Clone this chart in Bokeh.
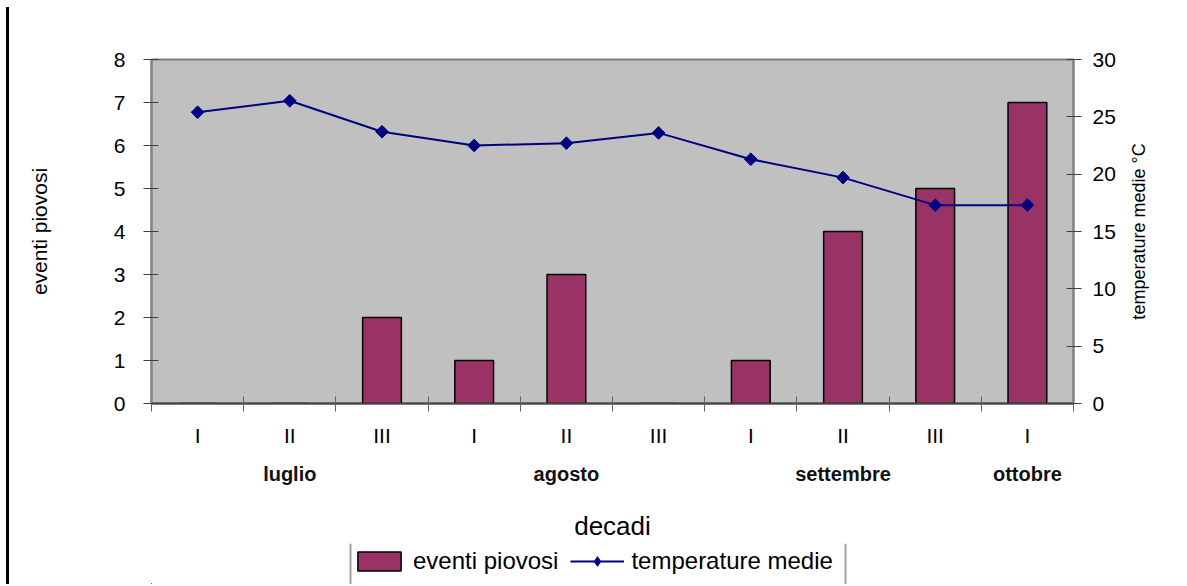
from bokeh.plotting import figure
from bokeh.models import Range1d, LinearAxis, FixedTicker, Legend, LegendItem, Div, Spacer, Span
from bokeh.layouts import row, column
from bokeh.embed import file_html
from bokeh.resources import INLINE
import numpy as np

# ---- data ----
decadi = ["I", "II", "III", "I", "II", "III", "I", "II", "III", "I"]
mesi = ["luglio", "agosto", "settembre", "ottobre"]
mesi_decade_idx = [1, 4, 7, 9]
eventi_piovosi = [0, 0, 2, 1, 3, 0, 1, 4, 5, 7]
temperature_medie = [25.4, 26.4, 23.7, 22.5, 22.7, 23.6, 21.3, 19.7, 17.3, 17.3]
y_left_ticks = [0, 1, 2, 3, 4, 5, 6, 7, 8]
y_right_ticks = [0, 5, 10, 15, 20, 25, 30]

FONT = "Liberation Sans"
BAR_FILL = "#993366"
LINE_COL = "#000080"
n = len(decadi)
xc = [i + 0.5 for i in range(n)]

W = 1114
BL, BR = 142, 50
FW = W - BL - BR
H, BT, BB = 543, 59, 140

p = figure(width=W, height=H, output_backend="svg", toolbar_location=None,
           x_range=Range1d(0, n), y_range=Range1d(0, 8),
           min_border_left=BL, min_border_right=BR, min_border_top=BT, min_border_bottom=BB)
p.background_fill_color = "#C0C0C0"
p.border_fill_color = "white"
p.outline_line_color = "#808080"
p.outline_line_width = 2
p.grid.visible = False
p.extra_y_ranges = {"temp": Range1d(0, 30)}

bars = p.vbar(x=xc, top=eventi_piovosi, width=0.42, fill_color=BAR_FILL,
              line_color="black", line_width=1.5)
line = p.line(x=xc, y=temperature_medie, y_range_name="temp", line_color=LINE_COL, line_width=2)
pts = p.scatter(x=xc, y=temperature_medie, y_range_name="temp", marker="square", angle=np.pi / 4,
                size=9, fill_color=LINE_COL, line_color=LINE_COL)

# left axis
yl = p.yaxis[0]
yl.ticker = FixedTicker(ticks=y_left_ticks)
yl.major_tick_in = 7
yl.major_tick_out = 8
yl.minor_tick_line_color = None
yl.axis_line_color = "#808080"
yl.axis_line_width = 2
yl.major_tick_line_color = "#404040"
yl.major_label_text_font = FONT
yl.major_label_text_font_size = "21px"
yl.major_label_text_color = "black"
yl.major_label_standoff = 18
yl.axis_label = "eventi piovosi"
yl.axis_label_text_font = FONT
yl.axis_label_text_font_style = "normal"
yl.axis_label_text_font_size = "21px"
yl.axis_label_text_color = "black"
yl.axis_label_standoff = 60

# right axis (values only; its title sits in the narrow figure on the right)
yr = LinearAxis(y_range_name="temp", ticker=FixedTicker(ticks=y_right_ticks))
yr.major_tick_in = 7
yr.major_tick_out = 8
yr.minor_tick_line_color = None
yr.axis_line_color = "#808080"
yr.axis_line_width = 2
yr.major_tick_line_color = "#404040"
yr.major_label_text_font = FONT
yr.major_label_text_font_size = "21px"
yr.major_label_text_color = "black"
yr.major_label_standoff = 11
p.add_layout(yr, "right")

# bottom axis: decade boundary ticks
xa = p.xaxis[0]
xa.ticker = FixedTicker(ticks=list(range(n + 1)))
xa.major_label_overrides = {i: "" for i in range(n + 1)}
xa.major_label_text_font_size = "1px"
xa.major_label_standoff = 0
xa.major_tick_in = 7
xa.major_tick_out = 8
xa.minor_tick_line_color = None
xa.axis_line_color = "#404040"
xa.axis_line_width = 2
xa.major_tick_line_color = "#606060"

# decade numerals
xn = LinearAxis(ticker=FixedTicker(ticks=xc),
                major_label_overrides={xc[i]: decadi[i] for i in range(n)})
xn.axis_line_color = None
xn.major_tick_line_color = None
xn.minor_tick_line_color = None
xn.major_label_text_font = FONT
xn.major_label_text_font_size = "21px"
xn.major_label_text_color = "black"
xn.major_label_standoff = 6
p.add_layout(xn, "below")

# months
mpos = [xc[i] for i in mesi_decade_idx]
xm = LinearAxis(ticker=FixedTicker(ticks=mpos),
                major_label_overrides={mpos[i]: mesi[i] for i in range(len(mesi))})
xm.axis_line_color = None
xm.major_tick_line_color = None
xm.minor_tick_line_color = None
xm.major_label_text_font = FONT
xm.major_label_text_font_size = "20px"
xm.major_label_text_font_style = "bold"
xm.major_label_text_color = "#111111"
xm.major_label_standoff = 7
xm.axis_label = "decadi"
xm.axis_label_text_font = FONT
xm.axis_label_text_font_style = "normal"
xm.axis_label_text_font_size = "26px"
xm.axis_label_text_color = "black"
xm.axis_label_standoff = 23
p.add_layout(xm, "below")

# narrow figure on the right carrying the right-axis title, reading upwards
pr = figure(width=62, height=H, output_backend="svg", toolbar_location=None,
            x_range=Range1d(0, 1), y_range=Range1d(0, 30), x_axis_type=None,
            min_border_left=27, min_border_right=0, min_border_top=BT, min_border_bottom=BB)
pr.outline_line_color = None
pr.grid.visible = False
ra = pr.yaxis[0]
ra.ticker = FixedTicker(ticks=[])
ra.axis_line_color = None
ra.major_tick_line_color = None
ra.minor_tick_line_color = None
ra.axis_label = "temperature medie °C"
ra.axis_label_text_font = FONT
ra.axis_label_text_font_style = "normal"
ra.axis_label_text_font_size = "18px"
ra.axis_label_text_color = "black"
ra.axis_label_standoff = 2

# legend strip: small figure under the chart, same frame width; its ranges keep
# the series out of view so only the legend shows
LH = 41
X0 = 1000
pl = figure(width=W, height=LH, output_backend="svg", toolbar_location=None,
            x_range=Range1d(X0, X0 + FW), y_range=Range1d(1000, 1000 + LH),
            x_axis_type=None, y_axis_type=None,
            min_border_left=BL, min_border_right=BR, min_border_top=0, min_border_bottom=0)
pl.outline_line_color = None
pl.grid.visible = False
lb = pl.vbar(x=xc, top=eventi_piovosi, width=0.42, fill_color=BAR_FILL,
             line_color="black", line_width=1.5)
ll = pl.line(x=xc, y=temperature_medie, line_color=LINE_COL, line_width=2)
lp = pl.scatter(x=xc, y=temperature_medie, marker="diamond", size=9,
                fill_color=LINE_COL, line_color=LINE_COL)
legend = Legend(items=[LegendItem(label="eventi piovosi", renderers=[lb]),
                       LegendItem(label="temperature medie", renderers=[ll, lp])],
                location=(201, 9), orientation="horizontal")
legend.label_text_font = FONT
legend.label_text_font_size = "24px"
legend.label_text_color = "black"
legend.glyph_width = 54
legend.glyph_height = 24
legend.label_standoff = 7
legend.spacing = 12
legend.padding = 2
legend.margin = 0
legend.background_fill_alpha = 0
legend.border_line_color = None
pl.add_layout(legend)
for xs in (199, 694):
    pl.add_layout(Span(location=X0 + xs, dimension="height", line_color="#A0A0A0", line_width=2))

rule = Div(width=3, height=577, margin=0, styles={"background-color": "black"})
layout = row(Spacer(width=6, margin=0), column(Spacer(height=7, margin=0), rule),
             column(p, pl), pr)

open("out.html", "w").write(file_html(layout, INLINE))
